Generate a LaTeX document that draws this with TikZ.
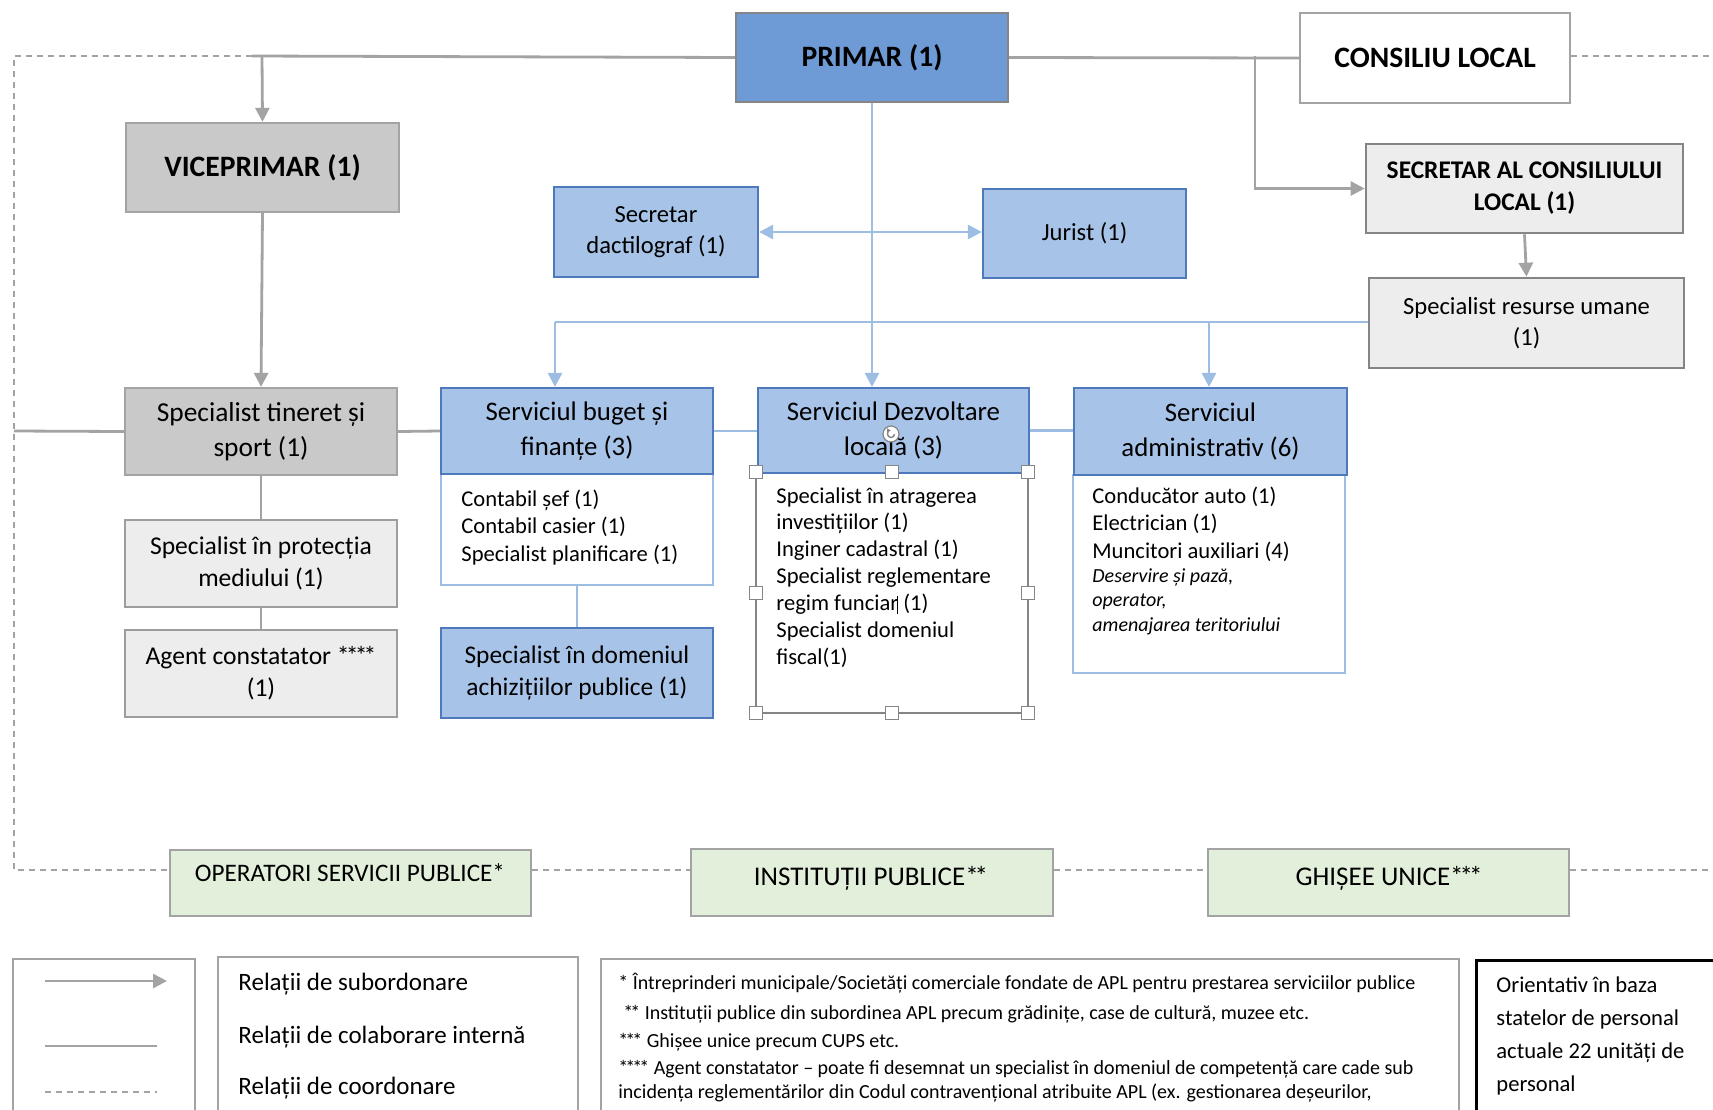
\documentclass[tikz,border=0pt]{standalone}
\usepackage{fontspec}
\setmainfont{Carlito}
\usetikzlibrary{arrows.meta,calc}

\definecolor{primblue}{HTML}{6E9BD6}
\definecolor{lblue}{HTML}{A7C3E7}
\definecolor{bblue}{HTML}{4F79BD}
\definecolor{lnblue}{HTML}{9EBDE2}
\definecolor{lngray}{HTML}{A3A3A3}
\definecolor{midgray}{HTML}{C9C9C9}
\definecolor{ltgray}{HTML}{EDEDED}
\definecolor{bdgray}{HTML}{858585}
\definecolor{lgreen}{HTML}{E2EFDA}

\newcommand\fsz[2]{\fontsize{#1}{#2}\selectfont}
% tight run of asterisks
\newcommand\astk{*\kern-.15em}

\tikzset{
  span/.style n args={4}{minimum width={(#3-#1)*0.5pt}, minimum height={(#4-#2)*0.5pt},
    at={({(#1+#3)/2},{(#2+#4)/2})}},
  cell/.style={inner sep=0pt, align=center},
  topbox/.style={cell, line width=1.2pt, font=\fsz{14.8}{17}\bfseries},
  bluebox/.style={cell, fill=lblue, draw=bblue, line width=1.1pt},
  graybox/.style={cell, fill=midgray, draw=lngray, line width=1.1pt, font=\fsz{13.7}{17.5}},
  lgraybox/.style={cell, fill=ltgray, draw=bdgray!80, line width=1.1pt, font=\fsz{12.8}{16}},
  listbox/.style={inner sep=0pt, fill=white, draw=lnblue, line width=1pt},
  greenbox/.style={inner sep=0pt, fill=lgreen, draw=lngray, line width=1.1pt},
  legbox/.style={inner sep=0pt, draw=lngray, line width=0.9pt},
  listtxt/.style={inner sep=0pt, anchor=base west, font=\fsz{11.3}{13}},
  fntxt/.style={inner sep=0pt, anchor=base west, font=\fsz{10}{12}},
  gline/.style={draw=lngray, line width=1.4pt},
  garrow/.style={gline, -{Triangle[length=7pt,width=7pt]}},
  bline/.style={draw=lnblue, line width=1.4pt},
  barrow/.style={bline, -{Triangle[length=7pt,width=7pt]}},
  dline/.style={draw=lngray, line width=0.8pt, dash pattern=on 3pt off 2.5pt},
  handle/.style={draw=bdgray, fill=white, line width=0.6pt, minimum size=6.5pt, inner sep=0pt}
}

\begin{document}
\begin{tikzpicture}[x=0.5pt,y=-0.5pt]
\useasboundingbox (0,0) rectangle (1713,1109);
\clip (0,0) rectangle (1713,1109);

% ---- top level
\node[topbox, fill=primblue, draw=bdgray, span={736}{13}{1008}{102}] (primar) {PRIMAR (1)};
\node[topbox, fill=white, draw=lngray, span={1300}{13}{1570}{103}] (consiliu) {CONSILIU LOCAL};
\node[topbox, fill=midgray, draw=lngray, span={126}{123}{399}{212}] (vice) {VICEPRIMAR (1)};

\node[lgraybox, draw=bdgray, line width=1.3pt, font=\fsz{12.7}{16}\bfseries, span={1366}{144}{1683}{233}] (secr) {SECRETAR AL CONSILIULUI\\LOCAL (1)};
\node[lgraybox, draw=bdgray, line width=1.3pt, font=\fsz{12.3}{15.5}, span={1369}{278}{1684}{368}] (hr) {Specialist resurse umane\\(1)};

\node[bluebox, font=\fsz{12.3}{15.5}, span={554}{187}{758}{277}] (sdact) {Secretar\\dactilograf (1)};
\node[bluebox, font=\fsz{12.3}{15.5}, span={983}{189}{1186}{278}] (jurist) {Jurist (1)};

% ---- left column
\node[graybox, span={125}{388}{397}{475}] (tineret) {Specialist tineret și\\sport (1)};
\node[lgraybox, span={125}{520}{397}{607}] (prot) {Specialist în protecția\\mediului (1)};
\node[lgraybox, span={125}{630}{397}{717}] (agent) {Agent constatator \astk\astk\astk*\\(1)};

% ---- Serviciul buget si finante
\node[listbox, span={441}{474}{713}{585}] (sbfc) {};
\node[bluebox, font=\fsz{13.4}{17.5}, span={441}{388}{713}{474}] (sbf) {Serviciul buget și\\finanțe (3)};
\node[bluebox, font=\fsz{12.7}{16}, span={441}{628}{713}{718}] (achiz) {Specialist în domeniul\\achizițiilor publice (1)};
\foreach \t [count=\i from 0] in {Contabil șef (1), Contabil casier (1), Specialist planificare (1)}
  \node[listtxt] (bf\i) at (461,{506+27.8*\i}) {\t};

% ---- Serviciul Dezvoltare locala
\node[listbox, draw=bdgray, line width=0.9pt, span={756}{472}{1028}{713}] (sdlc) {};
\node[bluebox, font=\fsz{13.4}{17.5}, span={758}{388}{1029}{473}] (sdl) {Serviciul Dezvoltare\\locală (3)};
\foreach \t [count=\i from 0] in {Specialist în atragerea, investițiilor (1), Inginer cadastral (1), Specialist reglementare, regim funciar (1), Specialist domeniul, fiscal(1)}
  \node[listtxt] (dz\i) at (776,{503+26.9*\i}) {\t};

% ---- Serviciul administrativ
\node[listbox, span={1073}{475}{1345}{673}] (sadmc) {};
\node[bluebox, font=\fsz{13.4}{17.5}, span={1074}{388}{1347}{475}] (sadm) {Serviciul\\administrativ (6)};
\foreach \t [count=\i from 0] in {Conducător auto (1), Electrician (1), Muncitori auxiliari (4)}
  \node[listtxt] (ad\i) at (1092,{503+27.5*\i}) {\t};
\foreach \t [count=\i from 0] in {{Deservire și pază,}, {operator,}, amenajarea teritoriului}
  \node[listtxt, font=\fsz{10}{12}\itshape] (ai\i) at (1092,{582+24.5*\i}) {\t};

% ---- partner bodies
\node[greenbox, span={170}{850}{531}{916}] (op) {};
\node[greenbox, span={691}{849}{1053}{916}] (inst) {};
\node[greenbox, span={1208}{849}{1569}{916}] (ghis) {};
\node[inner sep=0pt, font=\fsz{12.6}{15}] (opt) at (350,873) {OPERATORI SERVICII PUBLICE*};
\node[inner sep=0pt, font=\fsz{13.5}{15}] (instt) at (871,878) {INSTITUȚII PUBLICE\astk*};
\node[inner sep=0pt, font=\fsz{13.5}{15}] (ghist) at (1389,878) {GHIȘEE UNICE\astk\astk*};

% ---- connectors: subordination (grey)
\coordinate (vtop) at (262,56);
\coordinate (vstart) at (252,56);
\draw[gline] (primar.west) -- (vstart);
\draw[garrow] (vtop) -- (vice.north);
\draw[garrow] (vice.south) -- (tineret.north);
\draw[gline] (tineret.south) -- (prot.north);
\draw[gline] (prot.south) -- (agent.north);
\coordinate (cj) at (1255,56);
\draw[gline] (primar.east) -- (consiliu.west);
\draw[garrow] (cj) |- (secr.west);
\draw[garrow] (secr.south) -- (hr.north);

% ---- connectors: mayor's staff (blue)
\draw[barrow] (primar.south) -- (primar.south |- sdl.north);
\draw[{Triangle[length=7pt,width=7pt]}-{Triangle[length=7pt,width=7pt]}, bline] (sdact.east) -- (sdact.east -| jurist.west);
\coordinate (hj) at (555,322);
\coordinate (aj) at (1209,322);
\draw[bline] (hr.west |- hj) -- (hj);
\draw[barrow] (hj) -- (hj |- sbf.north);
\draw[barrow] (aj) -- (aj |- sadm.north);
\draw[bline] (sbfc.south) -- (achiz.north);

% ---- connectors: internal collaboration
\coordinate (lj) at (14,431);
\draw[gline] (lj) -- (tineret.west);
\draw[gline] (tineret.east) -- (sbf.west);
\draw[bline] (sbf.east) -- (sbf.east -| sdl.west);
\draw[bline] (sdl.east) -- (sdl.east -| sadm.west);

% ---- connectors: coordination (dashed)
\coordinate (dtl) at (14,56);
\coordinate (dbl) at (14,870);
\coordinate (dtr) at (1713,56);
\coordinate (dbr) at (1713,870);
\draw[dline] (vstart) -- (dtl) -- (dbl) -- (dbl -| op.west);
\draw[dline] (op.east |- dbl) -- (inst.west |- dbl);
\draw[dline] (inst.east |- dbl) -- (ghis.west |- dbl);
\draw[dline] (ghis.east |- dbl) -- (dbr);
\draw[dline] (consiliu.east |- dtr) -- (dtr);

% ---- selection frame on the Dezvoltare list
\foreach \hx/\hy [count=\i] in {756/472, 892/472, 1028/472, 756/593, 1028/593, 756/713, 892/713, 1028/713}
  \node[handle] (h\i) at (\hx,\hy) {};
\node[circle, draw=bdgray, fill=white, line width=0.6pt, minimum size=8pt, inner sep=0pt] (rot) at (891,434) {};
\draw[bdgray, line width=0.7pt, -{Latex[length=2pt,width=2.5pt]}] ([shift={(3.5,0)}]rot.center) arc[start angle=0, end angle=270, radius=3.5];
\coordinate (cur1) at (897,596);
\coordinate (cur2) at (897,614);
\draw[black, line width=0.5pt] (cur1) -- (cur2);

% ---- legend
\node[legbox, span={13}{959}{195}{1130}] (lg1) {};
\node[legbox, span={218}{957}{578}{1130}] (lg2) {};
\node[legbox, span={601}{959}{1459}{1130}] (lg3) {};
\node[inner sep=0pt, draw=black, line width=1.5pt, span={1476}{960}{1730}{1130}] (lg4) {};

\coordinate (la1) at (45,981);
\coordinate (la2) at (167,981);
\coordinate (lb1) at (45,1046);
\coordinate (lb2) at (157,1046);
\coordinate (lc1) at (45,1092);
\coordinate (lc2) at (157,1092);
\draw[garrow] (la1) -- (la2);
\draw[gline] (lb1) -- (lb2);
\draw[dline] (lc1) -- (lc2);

\node[inner sep=0pt, anchor=base west, font=\fsz{12.5}{15}] (lt1) at (238,990) {Relații de subordonare};
\node[inner sep=0pt, anchor=base west, font=\fsz{12.5}{15}] (lt2) at (238,1043) {Relații de colaborare internă};
\node[inner sep=0pt, anchor=base west, font=\fsz{12.5}{15}] (lt3) at (238,1094) {Relații de coordonare};

\node[fntxt] (fn1) at (618,989) {* Întreprinderi municipale/Societăți comerciale fondate de APL pentru prestarea serviciilor publice};
\node[fntxt] (fn2) at (623,1019) {\astk* Instituții publice din subordinea APL precum grădinițe, case de cultură, muzee etc.};
\node[fntxt] (fn3) at (618,1047) {\astk\astk* Ghișee unice precum CUPS etc.};
\node[fntxt] (fn4) at (618,1074) {\astk\astk\astk* Agent constatator – poate fi desemnat un specialist în domeniul de competență care cade sub};
\node[fntxt] (fn5) at (618,1098) {incidența reglementărilor din Codul contravențional atribuite APL (ex. gestionarea deșeurilor,};

\foreach \t [count=\i from 0] in {Orientativ în baza, statelor de personal, actuale 22 unități de, personal}
  \node[inner sep=0pt, anchor=base west, font=\fsz{11.3}{14}] (or\i) at (1496,{992+33.3*\i}) {\t};
\end{tikzpicture}
\end{document}
